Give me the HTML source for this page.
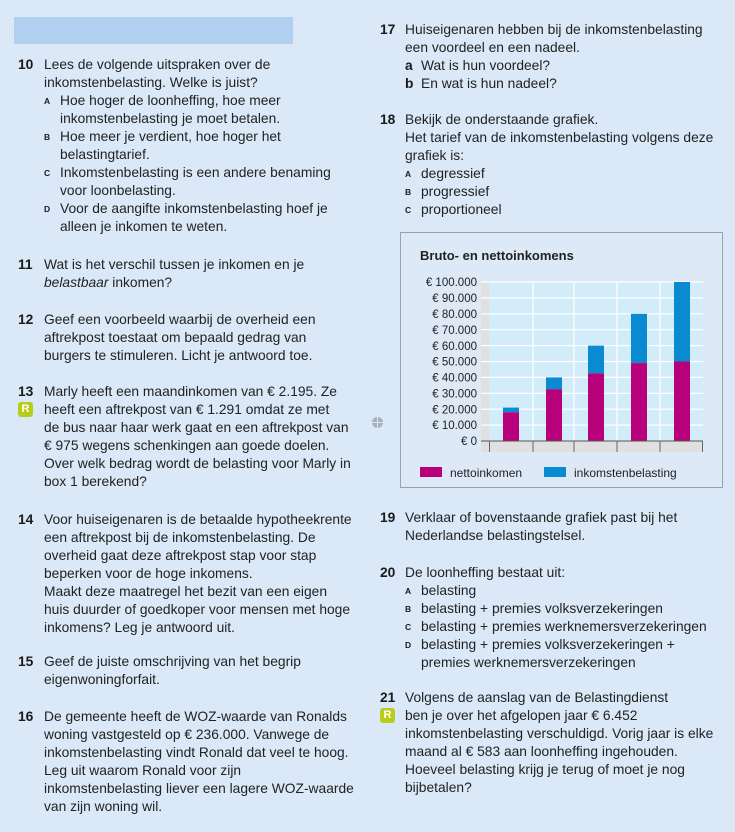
<!DOCTYPE html><html><head><meta charset="utf-8"><style>
body{margin:0;width:735px;height:832px;background:#dbe8f7;position:relative;overflow:hidden;font-family:"Liberation Sans",sans-serif;color:#1a1a1a}
.l{position:absolute;font-size:13.8px;line-height:18px;white-space:nowrap;color:#222}
.n{position:absolute;font-size:13.8px;line-height:18px;font-weight:bold}
.s{position:absolute;font-size:8.5px;line-height:18px;font-weight:bold}
.r{position:absolute;width:15px;height:15px;background:#b8cc1a;border-radius:3px;color:#fff;font-weight:bold;font-size:11px;text-align:center;line-height:15px}
</style></head><body>
<div style="position:absolute;left:14px;top:17px;width:279px;height:27px;background:#b1d0f0"></div>

<div class="n" style="left:18px;top:56px">10</div>
<div class="l" style="left:44px;top:56px">Lees de volgende uitspraken over de</div>
<div class="l" style="left:44px;top:74px">inkomstenbelasting. Welke is juist?</div>
<div class="s" style="left:44px;top:92px">A</div><div class="l" style="left:60px;top:92px">Hoe hoger de loonheffing, hoe meer</div>
<div class="l" style="left:60px;top:110px">inkomstenbelasting je moet betalen.</div>
<div class="s" style="left:44px;top:128px">B</div><div class="l" style="left:60px;top:128px">Hoe meer je verdient, hoe hoger het</div>
<div class="l" style="left:60px;top:146px">belastingtarief.</div>
<div class="s" style="left:44px;top:164px">C</div><div class="l" style="left:60px;top:164px">Inkomstenbelasting is een andere benaming</div>
<div class="l" style="left:60px;top:182px">voor loonbelasting.</div>
<div class="s" style="left:44px;top:200px">D</div><div class="l" style="left:60px;top:200px">Voor de aangifte inkomstenbelasting hoef je</div>
<div class="l" style="left:60px;top:218px">alleen je inkomen te weten.</div>

<div class="n" style="left:18px;top:256px">11</div>
<div class="l" style="left:44px;top:256px">Wat is het verschil tussen je inkomen en je</div>
<div class="l" style="left:44px;top:274px"><i>belastbaar</i> inkomen?</div>

<div class="n" style="left:18px;top:311px">12</div>
<div class="l" style="left:44px;top:311px">Geef een voorbeeld waarbij de overheid een</div>
<div class="l" style="left:44px;top:329px">aftrekpost toestaat om bepaald gedrag van</div>
<div class="l" style="left:44px;top:347px">burgers te stimuleren. Licht je antwoord toe.</div>

<div class="n" style="left:18px;top:383px">13</div>
<div class="r" style="left:18px;top:402px">R</div>
<div class="l" style="left:44px;top:383px">Marly heeft een maandinkomen van € 2.195. Ze</div>
<div class="l" style="left:44px;top:401px">heeft een aftrekpost van € 1.291 omdat ze met</div>
<div class="l" style="left:44px;top:419px">de bus naar haar werk gaat en een aftrekpost van</div>
<div class="l" style="left:44px;top:437px">€ 975 wegens schenkingen aan goede doelen.</div>
<div class="l" style="left:44px;top:455px">Over welk bedrag wordt de belasting voor Marly in</div>
<div class="l" style="left:44px;top:473px">box 1 berekend?</div>

<div class="n" style="left:18px;top:511px">14</div>
<div class="l" style="left:44px;top:511px">Voor huiseigenaren is de betaalde hypotheekrente</div>
<div class="l" style="left:44px;top:529px">een aftrekpost bij de inkomstenbelasting. De</div>
<div class="l" style="left:44px;top:547px">overheid gaat deze aftrekpost stap voor stap</div>
<div class="l" style="left:44px;top:565px">beperken voor de hoge inkomens.</div>
<div class="l" style="left:44px;top:583px">Maakt deze maatregel het bezit van een eigen</div>
<div class="l" style="left:44px;top:601px">huis duurder of goedkoper voor mensen met hoge</div>
<div class="l" style="left:44px;top:619px">inkomens? Leg je antwoord uit.</div>

<div class="n" style="left:18px;top:653px">15</div>
<div class="l" style="left:44px;top:653px">Geef de juiste omschrijving van het begrip</div>
<div class="l" style="left:44px;top:671px">eigenwoningforfait.</div>

<div class="n" style="left:18px;top:708px">16</div>
<div class="l" style="left:44px;top:708px">De gemeente heeft de WOZ-waarde van Ronalds</div>
<div class="l" style="left:44px;top:726px">woning vastgesteld op € 236.000. Vanwege de</div>
<div class="l" style="left:44px;top:744px">inkomstenbelasting vindt Ronald dat veel te hoog.</div>
<div class="l" style="left:44px;top:762px">Leg uit waarom Ronald voor zijn</div>
<div class="l" style="left:44px;top:780px">inkomstenbelasting liever een lagere WOZ-waarde</div>
<div class="l" style="left:44px;top:798px">van zijn woning wil.</div>

<div style="position:absolute;left:372px;top:417px;width:11px;height:11px;border-radius:50%;background:#aab0b8"></div>
<div style="position:absolute;left:377px;top:417px;width:1px;height:11px;background:#dbe8f7"></div>
<div style="position:absolute;left:372px;top:422px;width:11px;height:1px;background:#dbe8f7"></div>

<div class="n" style="left:380px;top:21px">17</div>
<div class="l" style="left:405px;top:21px">Huiseigenaren hebben bij de inkomstenbelasting</div>
<div class="l" style="left:405px;top:39px">een voordeel en een nadeel.</div>
<div class="n" style="left:405px;top:57px">a</div><div class="l" style="left:421px;top:57px">Wat is hun voordeel?</div>
<div class="n" style="left:405px;top:75px">b</div><div class="l" style="left:421px;top:75px">En wat is hun nadeel?</div>

<div class="n" style="left:380px;top:111px">18</div>
<div class="l" style="left:405px;top:111px">Bekijk de onderstaande grafiek.</div>
<div class="l" style="left:405px;top:129px">Het tarief van de inkomstenbelasting volgens deze</div>
<div class="l" style="left:405px;top:147px">grafiek is:</div>
<div class="s" style="left:405px;top:165px">A</div><div class="l" style="left:421px;top:165px">degressief</div>
<div class="s" style="left:405px;top:183px">B</div><div class="l" style="left:421px;top:183px">progressief</div>
<div class="s" style="left:405px;top:201px">C</div><div class="l" style="left:421px;top:201px">proportioneel</div>

<svg style="position:absolute;left:0;top:0" width="735" height="832" font-family="Liberation Sans,sans-serif">
<rect x="400.5" y="232.5" width="322" height="255" fill="#dde9f7" stroke="#9aa3ad"/>
<text x="420" y="260" font-size="13" font-weight="bold" fill="#222">Bruto- en nettoinkomens</text>
<rect x="481" y="282" width="222" height="170" fill="#e0e0e0"/>
<rect x="489" y="282" width="214" height="159" fill="#d3ecfa"/>
<g stroke="#fff" stroke-width="1.2">
<line x1="533" y1="282" x2="533" y2="441"/><line x1="574" y1="282" x2="574" y2="441"/><line x1="617" y1="282" x2="617" y2="441"/><line x1="660" y1="282" x2="660" y2="441"/>
<line x1="481" y1="282" x2="703" y2="282"/><line x1="481" y1="297.9" x2="703" y2="297.9"/><line x1="481" y1="313.8" x2="703" y2="313.8"/><line x1="481" y1="329.7" x2="703" y2="329.7"/><line x1="481" y1="345.6" x2="703" y2="345.6"/><line x1="481" y1="361.5" x2="703" y2="361.5"/><line x1="481" y1="377.4" x2="703" y2="377.4"/><line x1="481" y1="393.3" x2="703" y2="393.3"/><line x1="481" y1="409.2" x2="703" y2="409.2"/><line x1="481" y1="425.1" x2="703" y2="425.1"/>
</g>
<g fill="#0a8ad0">
<rect x="503" y="407.6" width="16" height="4.8"/><rect x="546" y="377.4" width="16" height="12"/><rect x="588" y="345.6" width="16" height="27.8"/><rect x="631" y="313.8" width="16" height="49.3"/><rect x="674" y="282" width="16" height="79.5"/>
</g>
<g fill="#b8007a">
<rect x="503" y="412.4" width="16" height="28.6"/><rect x="546" y="389.3" width="16" height="51.7"/><rect x="588" y="373.4" width="16" height="67.6"/><rect x="631" y="363.1" width="16" height="77.9"/><rect x="674" y="361.5" width="16" height="79.5"/>
</g>
<line x1="481" y1="441" x2="703" y2="441" stroke="#555"/>
<g stroke="#666"><line x1="489.5" y1="441" x2="489.5" y2="452"/><line x1="533" y1="441" x2="533" y2="452"/><line x1="574" y1="441" x2="574" y2="452"/><line x1="617" y1="441" x2="617" y2="452"/><line x1="660" y1="441" x2="660" y2="452"/><line x1="702.5" y1="441" x2="702.5" y2="452"/></g>
<g font-size="11.5" fill="#222" text-anchor="end">
<text x="477" y="286">€ 100.000</text><text x="477" y="302">€ 90.000</text><text x="477" y="318">€ 80.000</text><text x="477" y="334">€ 70.000</text><text x="477" y="350">€ 60.000</text><text x="477" y="365.5">€ 50.000</text><text x="477" y="381.5">€ 40.000</text><text x="477" y="397.5">€ 30.000</text><text x="477" y="413.5">€ 20.000</text><text x="477" y="429">€ 10.000</text><text x="477" y="445">€ 0</text>
</g>
<rect x="420" y="467" width="22" height="10" fill="#b8007a"/>
<text x="450" y="477" font-size="12" fill="#222">nettoinkomen</text>
<rect x="544" y="467" width="22" height="10" fill="#0a8ad0"/>
<text x="574" y="477" font-size="12" fill="#222">inkomstenbelasting</text>
</svg>

<div class="n" style="left:380px;top:509px">19</div>
<div class="l" style="left:405px;top:509px">Verklaar of bovenstaande grafiek past bij het</div>
<div class="l" style="left:405px;top:527px">Nederlandse belastingstelsel.</div>

<div class="n" style="left:380px;top:564px">20</div>
<div class="l" style="left:405px;top:564px">De loonheffing bestaat uit:</div>
<div class="s" style="left:405px;top:582px">A</div><div class="l" style="left:421px;top:582px">belasting</div>
<div class="s" style="left:405px;top:600px">B</div><div class="l" style="left:421px;top:600px">belasting + premies volksverzekeringen</div>
<div class="s" style="left:405px;top:618px">C</div><div class="l" style="left:421px;top:618px">belasting + premies werknemersverzekeringen</div>
<div class="s" style="left:405px;top:636px">D</div><div class="l" style="left:421px;top:636px">belasting + premies volksverzekeringen +</div>
<div class="l" style="left:421px;top:654px">premies werknemersverzekeringen</div>

<div class="n" style="left:380px;top:689px">21</div>
<div class="r" style="left:380px;top:708px">R</div>
<div class="l" style="left:405px;top:689px">Volgens de aanslag van de Belastingdienst</div>
<div class="l" style="left:405px;top:707px">ben je over het afgelopen jaar € 6.452</div>
<div class="l" style="left:405px;top:725px">inkomstenbelasting verschuldigd. Vorig jaar is elke</div>
<div class="l" style="left:405px;top:743px">maand al € 583 aan loonheffing ingehouden.</div>
<div class="l" style="left:405px;top:761px">Hoeveel belasting krijg je terug of moet je nog</div>
<div class="l" style="left:405px;top:779px">bijbetalen?</div>
</body></html>
